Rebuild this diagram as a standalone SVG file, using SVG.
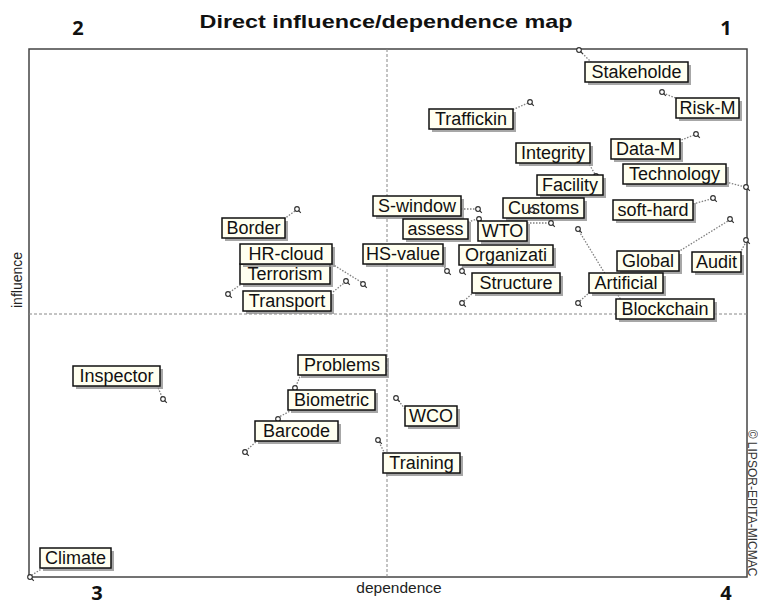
<svg xmlns="http://www.w3.org/2000/svg" width="758" height="605" viewBox="0 0 758 605">
<style>
.bg{fill:#fff}
.fr{fill:none;stroke:#444;stroke-width:1.5}
.mid{stroke:#888;stroke-width:1;stroke-dasharray:3 2}
.b{fill:#fffff0;stroke:#111;stroke-width:1.5}
.s{fill:#8a8a8a;opacity:.75}
.t{font-family:"Liberation Sans",Arial,sans-serif;font-size:18px;fill:#111;text-anchor:middle}
.l{stroke:#808080;stroke-width:1.3;stroke-dasharray:1.5 1.5;fill:none}
.ttl{font-family:"Liberation Sans",Arial,sans-serif;font-size:19px;font-weight:bold;fill:#111;text-anchor:middle}
.num{font-family:"Open Sans","Liberation Sans",sans-serif;font-size:20px;font-weight:bold;fill:#111;text-anchor:middle}
.ax{font-family:"Liberation Sans",Arial,sans-serif;font-size:14px;fill:#222;text-anchor:middle}
.dep{font-family:"Liberation Sans",Arial,sans-serif;font-size:15.5px;fill:#222;text-anchor:middle}
.cp{font-family:"Liberation Sans",Arial,sans-serif;font-size:12px;fill:#333;text-anchor:middle}
</style>
<defs>
<g id="pt"><circle r="2.3" fill="#fff" stroke="#333" stroke-width="1.2"/><line x1="1.7" y1="1.7" x2="3.8" y2="3.8" stroke="#333" stroke-width="1.2"/></g>
</defs>
<rect class="bg" x="0" y="0" width="758" height="605"/>
<g id="frame">
<rect class="fr" x="29" y="49" width="718" height="528"/>
<line class="mid" x1="387" y1="49" x2="387" y2="577"/>
<line class="mid" x1="29" y1="314" x2="747" y2="314"/>
</g>
<g id="labels">
<text class="ttl" x="386" y="28" textLength="373" lengthAdjust="spacingAndGlyphs">Direct influence/dependence map</text>
<text class="num" x="78" y="35">2</text>
<text class="num" x="726" y="35">1</text>
<text class="num" x="97" y="600">3</text>
<text class="num" x="726" y="600">4</text>
<text class="ax" transform="translate(22,280) rotate(-90)">influence</text>
<text class="dep" x="399" y="593">dependence</text>
<text class="cp" transform="translate(748,503) rotate(90)">© LIPSOR-EPITA-MICMAC</text>
</g>
<g id="connectors">
<line class="l" x1="580" y1="51" x2="591" y2="62"/>
<line class="l" x1="663" y1="93" x2="678" y2="99"/>
<line class="l" x1="528" y1="103" x2="512" y2="110"/>
<line class="l" x1="694" y1="135" x2="679" y2="141"/>
<line class="l" x1="588" y1="162" x2="596" y2="176"/>
<line class="l" x1="726" y1="182" x2="745" y2="187"/>
<line class="l" x1="461" y1="209" x2="476" y2="209"/>
<line class="l" x1="527" y1="223" x2="549" y2="223"/>
<line class="l" x1="693" y1="204" x2="711" y2="199"/>
<line class="l" x1="468" y1="222" x2="477" y2="219"/>
<line class="l" x1="284" y1="219" x2="295" y2="211"/>
<line class="l" x1="332" y1="264" x2="361" y2="282"/>
<line class="l" x1="440" y1="263" x2="446" y2="269"/>
<line class="l" x1="463" y1="264" x2="462" y2="269"/>
<line class="l" x1="243" y1="283" x2="230" y2="292"/>
<line class="l" x1="333" y1="292" x2="344" y2="283"/>
<line class="l" x1="474" y1="292" x2="464" y2="301"/>
<line class="l" x1="678" y1="252" x2="728" y2="221"/>
<line class="l" x1="740" y1="253" x2="746" y2="242"/>
<line class="l" x1="590" y1="292" x2="580" y2="301"/>
<line class="l" x1="579" y1="231" x2="621" y2="300"/>
<line class="l" x1="157" y1="385" x2="162" y2="397"/>
<line class="l" x1="301" y1="374" x2="296" y2="386"/>
<line class="l" x1="292" y1="410" x2="279" y2="417"/>
<line class="l" x1="258" y1="440" x2="247" y2="450"/>
<line class="l" x1="405" y1="409" x2="398" y2="400"/>
<line class="l" x1="385" y1="454" x2="379" y2="442"/>
<line class="l" x1="43" y1="568" x2="32" y2="575"/>
</g>
<g id="n-stakeholde"><use href="#pt" x="579" y="50"/><rect class="s" x="588" y="65" width="103" height="20"/><rect class="b" x="585" y="62" width="103" height="20"/><text class="t" x="636.5" y="78">Stakeholde</text></g>
<g id="n-riskm"><use href="#pt" x="662" y="92"/><rect class="s" x="679" y="101" width="63" height="20"/><rect class="b" x="676" y="98" width="63" height="20"/><text class="t" x="707.5" y="114">Risk-M</text></g>
<g id="n-traffickin"><use href="#pt" x="530" y="102"/><rect class="s" x="432" y="112" width="84" height="20"/><rect class="b" x="429" y="109" width="84" height="20"/><text class="t" x="471" y="125">Traffickin</text></g>
<g id="n-datam"><use href="#pt" x="696" y="134"/><rect class="s" x="614" y="142" width="69" height="20"/><rect class="b" x="611" y="139" width="69" height="20"/><text class="t" x="645.5" y="155">Data-M</text></g>
<g id="n-integrity"><use href="#pt" x="596" y="176"/><rect class="s" x="519" y="146" width="74" height="20"/><rect class="b" x="516" y="143" width="74" height="20"/><text class="t" x="553" y="159">Integrity</text></g>
<g id="n-technology"><use href="#pt" x="746" y="187"/><rect class="s" x="626" y="167" width="103" height="20"/><rect class="b" x="623" y="164" width="103" height="20"/><text class="t" x="674.5" y="180">Technology</text></g>
<g id="n-facility"><rect class="s" x="540" y="178" width="66" height="20"/><rect class="b" x="537" y="175" width="66" height="20"/><text class="t" x="570" y="191">Facility</text></g>
<g id="n-swindow"><use href="#pt" x="478" y="209"/><rect class="s" x="376" y="199" width="88" height="20"/><rect class="b" x="373" y="196" width="88" height="20"/><text class="t" x="417" y="212">S-window</text></g>
<g id="n-customs"><rect class="s" x="506" y="201" width="81" height="20"/><rect class="b" x="503" y="198" width="81" height="20"/><text class="t" x="543.5" y="214">Customs</text><use href="#pt" x="532" y="210"/></g>
<g id="n-softhard"><use href="#pt" x="713" y="198"/><rect class="s" x="616" y="203" width="80" height="20"/><rect class="b" x="613" y="200" width="80" height="20"/><text class="t" x="653" y="216">soft-hard</text></g>
<g id="n-assess"><use href="#pt" x="479" y="219"/><rect class="s" x="406" y="222" width="65" height="20"/><rect class="b" x="403" y="219" width="65" height="20"/><text class="t" x="435.5" y="235">assess</text></g>
<g id="n-wto"><use href="#pt" x="551" y="223"/><rect class="s" x="481" y="224" width="49" height="20"/><rect class="b" x="478" y="221" width="49" height="20"/><text class="t" x="502.5" y="237">WTO</text></g>
<g id="n-border"><use href="#pt" x="297" y="209"/><rect class="s" x="225" y="221" width="63" height="20"/><rect class="b" x="222" y="218" width="63" height="20"/><text class="t" x="253.5" y="234">Border</text></g>
<g id="n-terrorism"><use href="#pt" x="228" y="294"/><rect class="s" x="243" y="267" width="90" height="20"/><rect class="b" x="240" y="264" width="90" height="20"/><text class="t" x="285" y="280">Terrorism</text></g>
<g id="n-hrcloud"><use href="#pt" x="363" y="284"/><rect class="s" x="243" y="247" width="92" height="20"/><rect class="b" x="240" y="244" width="92" height="20"/><text class="t" x="286" y="260">HR-cloud</text></g>
<g id="n-hsvalue"><use href="#pt" x="447" y="271"/><rect class="s" x="366" y="247" width="80" height="20"/><rect class="b" x="363" y="244" width="80" height="20"/><text class="t" x="403" y="260">HS-value</text></g>
<g id="n-organizati"><use href="#pt" x="462" y="271"/><rect class="s" x="462" y="248" width="94" height="20"/><rect class="b" x="459" y="245" width="94" height="20"/><text class="t" x="506" y="261">Organizati</text></g>
<g id="n-transport"><use href="#pt" x="346" y="281"/><rect class="s" x="246" y="294" width="88" height="20"/><rect class="b" x="243" y="291" width="88" height="20"/><text class="t" x="287" y="307">Transport</text></g>
<g id="n-structure"><use href="#pt" x="462" y="303"/><rect class="s" x="475" y="276" width="88" height="20"/><rect class="b" x="472" y="273" width="88" height="20"/><text class="t" x="516" y="289">Structure</text></g>
<g id="n-global"><use href="#pt" x="730" y="219"/><rect class="s" x="620" y="254" width="62" height="20"/><rect class="b" x="617" y="251" width="62" height="20"/><text class="t" x="648" y="267">Global</text></g>
<g id="n-audit"><use href="#pt" x="746" y="240"/><rect class="s" x="695" y="255" width="49" height="20"/><rect class="b" x="692" y="252" width="49" height="20"/><text class="t" x="716.5" y="268">Audit</text></g>
<g id="n-blockchain"><use href="#pt" x="578" y="229"/><rect class="s" x="619" y="302" width="98" height="20"/><rect class="b" x="616" y="299" width="98" height="20"/><text class="t" x="665" y="315">Blockchain</text></g>
<g id="n-artificial"><use href="#pt" x="578" y="303"/><rect class="s" x="592" y="276" width="74" height="20"/><rect class="b" x="589" y="273" width="74" height="20"/><text class="t" x="626" y="289">Artificial</text></g>
<g id="n-inspector"><use href="#pt" x="163" y="399"/><rect class="s" x="76" y="369" width="87" height="20"/><rect class="b" x="73" y="366" width="87" height="20"/><text class="t" x="116.5" y="382">Inspector</text></g>
<g id="n-problems"><use href="#pt" x="295" y="388"/><rect class="s" x="301" y="358" width="88" height="20"/><rect class="b" x="298" y="355" width="88" height="20"/><text class="t" x="342" y="371">Problems</text></g>
<g id="n-biometric"><use href="#pt" x="278" y="419"/><rect class="s" x="291" y="393" width="87" height="20"/><rect class="b" x="288" y="390" width="87" height="20"/><text class="t" x="331.5" y="406">Biometric</text></g>
<g id="n-barcode"><use href="#pt" x="245" y="452"/><rect class="s" x="258" y="424" width="83" height="20"/><rect class="b" x="255" y="421" width="83" height="20"/><text class="t" x="296.5" y="437">Barcode</text></g>
<g id="n-wco"><use href="#pt" x="396" y="398"/><rect class="s" x="408" y="409" width="52" height="20"/><rect class="b" x="405" y="406" width="52" height="20"/><text class="t" x="431" y="422">WCO</text></g>
<g id="n-training"><use href="#pt" x="378" y="440"/><rect class="s" x="386" y="456" width="77" height="20"/><rect class="b" x="383" y="453" width="77" height="20"/><text class="t" x="421.5" y="469">Training</text></g>
<g id="n-climate"><use href="#pt" x="30" y="577"/><rect class="s" x="43" y="551" width="71" height="20"/><rect class="b" x="40" y="548" width="71" height="20"/><text class="t" x="75.5" y="564">Climate</text></g>
</svg>
